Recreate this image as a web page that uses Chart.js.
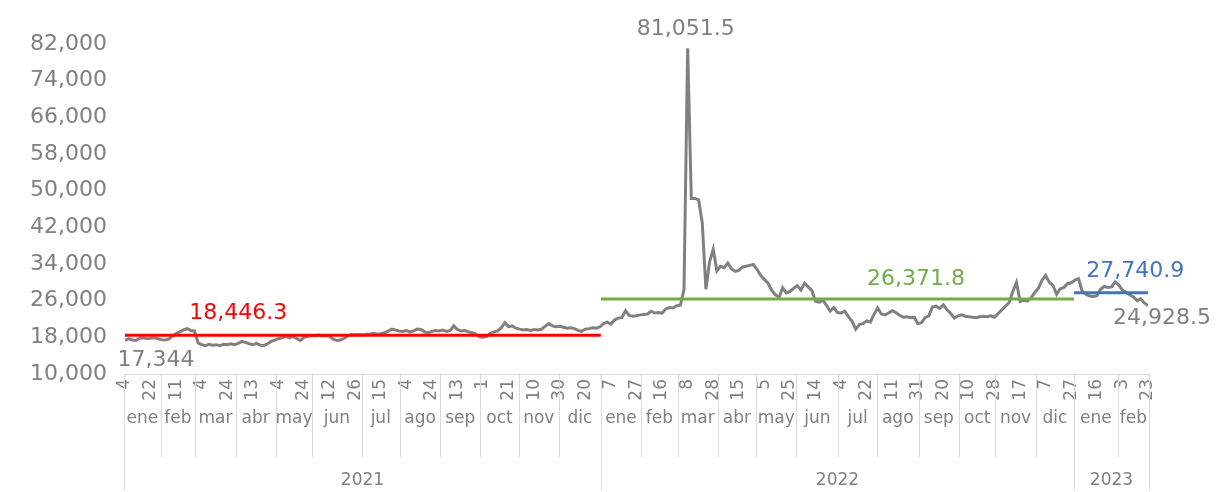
<!DOCTYPE html>
<html>
<head>
<meta charset="utf-8">
<script src="https://cdn.jsdelivr.net/npm/chart.js@4.4.1/dist/chart.umd.min.js"></script>
<style>
  html, body { margin: 0; padding: 0; background: #fff; }
  #wrap { width: 1222px; height: 492px; }
</style>
</head>
<body>
<div id="wrap"><canvas id="chart"></canvas></div>
<script>
// Daily price, one stored sample every STEP trading days (index 0 = 4 ene 2021)
const STEP = 2;
const prices = [
  17344, 17700, 17400, 17300, 17800, 17900, 17700, 17800, 17900, 17700,
  17500, 17400, 17600, 18300, 18800, 19200, 19600, 19900, 19500, 19400,
  16800, 16400, 16200, 16500, 16300, 16400, 16200, 16500, 16400, 16600,
  16400, 16700, 17100, 16900, 16600, 16400, 16700, 16300, 16200, 16600,
  17100, 17400, 17700, 17900, 18200, 17900, 18200, 17700, 17300, 18000,
  18200, 18400, 18300, 18500, 18300, 18400, 18200, 17600, 17300, 17400,
  17800, 18300, 18600, 18500, 18600, 18500, 18700, 18700, 18900, 18700,
  18800, 19000, 19300, 19800, 19600, 19400, 19300, 19500, 19200, 19400,
  19800, 19700, 19200, 19000, 19300, 19500, 19400, 19600, 19300, 19500,
  20500, 19700, 19400, 19500, 19200, 19000, 18700, 18100, 18000, 18200,
  18900, 19200, 19400, 20100, 21200, 20300, 20500, 20000, 19800, 19600,
  19700, 19500, 19700, 19600, 19800, 20400, 21000, 20500, 20300, 20400,
  20200, 20000, 20100, 19900, 19500, 19300, 19800, 19900, 20100, 20000,
  20300, 21000, 21300, 20900, 21800, 22200, 22300, 23800, 22800, 22600,
  22700, 22900, 23000, 23100, 23700, 23300, 23400, 23300, 24200, 24500,
  24400, 24900, 25000, 28400, 81051.5, 48300, 48300, 48000, 43000, 28500,
  34500, 37200, 32500, 33500, 33200, 34200, 33000, 32400, 32600, 33300,
  33500, 33700, 33900, 32800, 31500, 30600, 29800, 28300, 27300, 26700,
  28800, 27700, 28000, 28700, 29300, 28300, 29800, 29000, 28200, 25900,
  25700, 26100, 25000, 23700, 24500, 23400, 23300, 23700, 22500, 21500,
  19800, 20800, 21000, 21600, 21300, 23000, 24400, 23100, 22900, 23300,
  23800, 23400, 22800, 22400, 22500, 22300, 22400, 21000, 21200, 22300,
  22700, 24600, 24800, 24300, 25100, 24000, 23200, 22200, 22700, 22900,
  22600, 22500, 22400, 22300, 22500, 22600, 22500, 22700, 22400, 23200,
  24000, 24800, 25600, 28000, 30000, 25800, 26100, 25900, 26600, 27800,
  28700, 30500, 31500, 30000, 29300, 27400, 28600, 28900, 29700, 29900,
  30500, 30800, 28000, 27400, 27000, 26900, 27100, 28500, 29100, 28900,
  29000, 30100, 29400, 28300, 27800, 27300, 26800, 26000, 26400, 25500,
  24928.5
];
const totalDays = 561;

// day of month shown every 14 trading days
const LABEL_EVERY = 14;
const dayLabels = [
  '4', '22', '11', '4', '24', '13', '4', '24', '12', '26', '15', '4', '24', '13', '1', '21', '10', '30', '20',
  '7', '27', '16', '8', '28', '15', '5', '25', '14', '4', '22', '11', '31', '20', '10', '28', '17', '7', '27',
  '16', '3', '23'
];

const monthNames = ['ene', 'feb', 'mar', 'abr', 'may', 'jun', 'jul', 'ago', 'sep', 'oct', 'nov', 'dic'];
const monthLabels = [...monthNames, ...monthNames, 'ene', 'feb'];
const monthStarts = [
  0, 20, 39, 61, 83, 103, 130, 151, 173, 195, 216, 238,
  261, 283, 303, 325, 346, 368, 391, 412, 435, 457, 477, 499,
  520, 544
];

const years = ['2021', '2022', '2023'];
const yearStarts = [0, 261, 520];
const yearAvg = [18446.3, 26371.8, 27740.9];

const avgColors = ['#ff0000', '#70ad47', '#4472c4'];
const GRAY = '#808080';
const FONT = '"DejaVu Sans", sans-serif';
const fmt = v => v.toLocaleString('en-US', { maximumFractionDigits: 1 });

const peakIdx = prices.indexOf(Math.max(...prices));

function avgSegment(i) {
  const from = Math.max(0, yearStarts[i] - 0.5);
  const to = i + 1 < yearStarts.length ? yearStarts[i + 1] - 0.5 : (prices.length - 1) * STEP;
  return [{ x: from, y: yearAvg[i] }, { x: to, y: yearAvg[i] }];
}

// month / year rows under the day labels, plus value notes
const multiLevel = {
  id: 'multiLevel',
  afterDraw(chart) {
    const { ctx, chartArea, scales: { x, y } } = chart;
    const top = chartArea.bottom;
    const px = v => Math.round(x.getPixelForValue(v)) + 0.5;
    ctx.save();
    ctx.strokeStyle = '#d9d9d9';
    ctx.lineWidth = 1;
    ctx.beginPath();
    monthStarts.forEach(s => {
      const isYear = yearStarts.includes(s);
      ctx.moveTo(px(s - 0.5), top);
      ctx.lineTo(px(s - 0.5), isYear ? top + 116 : top + 83);
    });
    ctx.moveTo(px(totalDays - 0.5), top);
    ctx.lineTo(px(totalDays - 0.5), top + 116);
    ctx.stroke();

    ctx.fillStyle = GRAY;
    ctx.font = '17px ' + FONT;
    ctx.textAlign = 'center';
    ctx.textBaseline = 'middle';
    const mEdges = monthStarts.concat([totalDays]);
    monthLabels.forEach((m, i) => {
      const c = (x.getPixelForValue(mEdges[i] - 0.5) + x.getPixelForValue(mEdges[i + 1] - 0.5)) / 2;
      ctx.fillText(m, c, top + 45);
    });
    const yEdges = yearStarts.concat([totalDays]);
    years.forEach((yr, i) => {
      const c = (x.getPixelForValue(yEdges[i] - 0.5) + x.getPixelForValue(yEdges[i + 1] - 0.5)) / 2;
      ctx.fillText(yr, c, top + 107);
    });

    // value labels
    ctx.font = '22px ' + FONT;
    const last = prices.length - 1;
    const notes = [
      { t: fmt(prices[0]), c: GRAY, x: x.getPixelForValue(0) + 31, y: y.getPixelForValue(prices[0]) + 20 },
      { t: fmt(prices[peakIdx]), c: GRAY, x: x.getPixelForValue(peakIdx * STEP) - 2, y: y.getPixelForValue(prices[peakIdx]) - 19 },
      { t: fmt(prices[last]), c: GRAY, x: x.getPixelForValue(last * STEP) + 14, y: y.getPixelForValue(prices[last]) + 13 },
      { t: fmt(yearAvg[0]), c: avgColors[0], x: x.getPixelForValue(62), y: y.getPixelForValue(yearAvg[0]) - 22 },
      { t: fmt(yearAvg[1]), c: avgColors[1], x: x.getPixelForValue(433), y: y.getPixelForValue(yearAvg[1]) - 20 },
      { t: fmt(yearAvg[2]), c: avgColors[2], x: x.getPixelForValue(553), y: y.getPixelForValue(yearAvg[2]) - 21 }
    ];
    notes.forEach(n => {
      ctx.fillStyle = n.c;
      ctx.fillText(n.t, n.x, n.y);
    });
    ctx.restore();
  }
};

new Chart(document.getElementById('chart'), {
  type: 'line',
  data: {
    datasets: [
      {
        label: 'Precio',
        data: prices.map((v, k) => ({ x: k * STEP, y: v })),
        borderColor: '#808080',
        borderWidth: 3,
        pointRadius: 0,
        tension: 0,
        order: 1
      },
      ...yearAvg.map((avg, i) => ({
        label: 'Promedio ' + years[i],
        data: avgSegment(i),
        borderColor: avgColors[i],
        borderWidth: 3,
        pointRadius: 0,
        order: 0
      }))
    ]
  },
  options: {
    responsive: true,
    maintainAspectRatio: false,
    animation: false,
    layout: { padding: { top: 44, right: 74, left: 0, bottom: 0 } },
    plugins: { legend: { display: false }, tooltip: { enabled: false } },
    scales: {
      x: {
        type: 'linear',
        min: 0,
        max: (prices.length - 1) * STEP,
        grid: { display: false, drawTicks: false },
        border: { display: true, color: '#d9d9d9', width: 1 },
        afterBuildTicks: s => { s.ticks = dayLabels.map((_, i) => ({ value: i * LABEL_EVERY })); },
        afterFit: s => { s.height = 118; },
        ticks: {
          autoSkip: false,
          minRotation: 90,
          maxRotation: 90,
          padding: 5,
          color: GRAY,
          font: { family: FONT, size: 17 },
          callback: v => dayLabels[Math.round(v / LABEL_EVERY)]
        }
      },
      y: {
        min: 10000,
        max: 82000,
        grid: { display: false, drawTicks: false },
        border: { display: false },
        afterFit: s => { s.width = 125; },
        ticks: {
          stepSize: 8000,
          padding: 18,
          color: GRAY,
          font: { family: FONT, size: 22 },
          callback: v => v.toLocaleString('en-US')
        }
      }
    }
  },
  plugins: [multiLevel]
});
</script>
</body>
</html>
